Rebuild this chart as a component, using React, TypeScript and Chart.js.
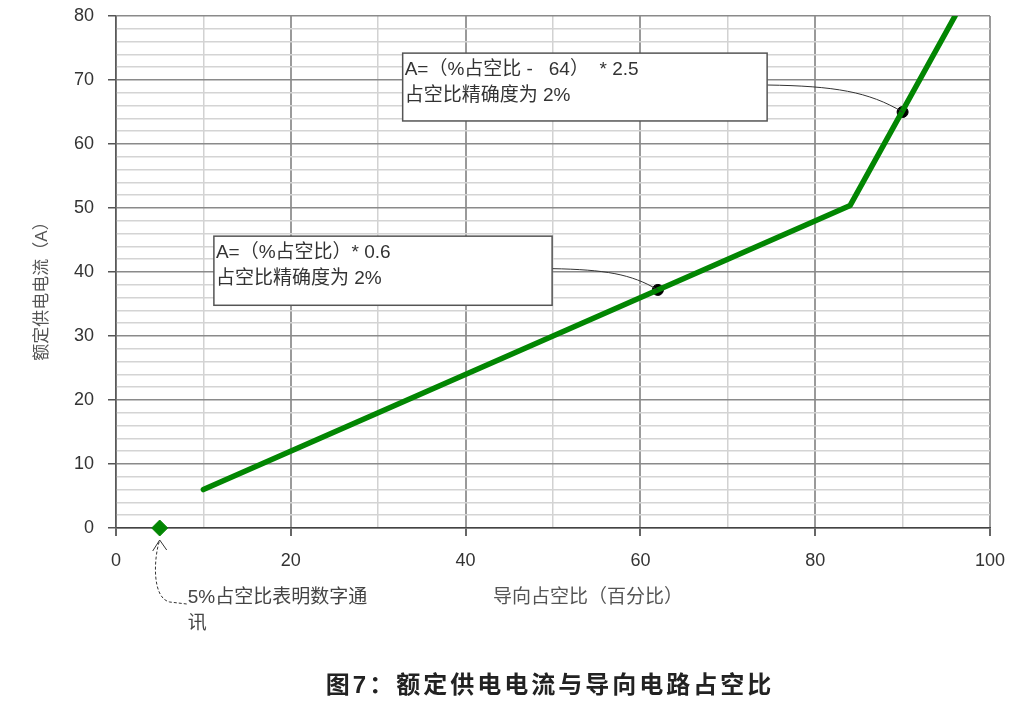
import React, { useEffect, useRef } from "react";
import { Chart, registerables } from "chart.js";

Chart.register(...registerables);

// ---- data ----
const dutyCycle = [10, 84, 96];
const ratedCurrent = [6, 50.4, 80];
const markedDuty = [62, 90];
const markedCurrent = [37.2, 65];
const digitalDuty = [5];
const digitalCurrent = [0];

const xLabelStep = 20;
const yLabelStep = 10;

const formulaLow = ["A=（%占空比）* 0.6", "占空比精确度为 2%"];
const formulaHigh = ["A=（%占空比 -   64）  * 2.5", "占空比精确度为 2%"];
const digitalNote = ["5%占空比表明数字通", "讯"];
const xTitle = "导向占空比（百分比）";
const yTitle = "额定供电电流（A）";
const chartTitle = "图7：额定供电电流与导向电路占空比";

// box corners in data units: [xLeft, xRight, yTop, yBottom]
const boxLow = [11.2, 49.9, 45.6, 34.8];
const boxHigh = [32.8, 74.5, 74.2, 63.6];

const FONT = '"Liberation Sans", "Noto Sans CJK SC", sans-serif';
const GREEN = "#028602";

export default function App() {
  const ref = useRef<HTMLCanvasElement>(null);

  useEffect(() => {
    const canvas = ref.current!;

    const notes = {
      id: "notes",
      afterDatasetsDraw(chart: any) {
        const { ctx } = chart;
        const xs = chart.scales.x;
        const ys = chart.scales.y;
        ctx.save();

        const drawBox = (box: number[], lines: string[], target: number) => {
          const l = xs.getPixelForValue(box[0]);
          const r = xs.getPixelForValue(box[1]);
          const t = ys.getPixelForValue(box[2]);
          const b = ys.getPixelForValue(box[3]);
          const sx = r;
          const sy = t + (b - t) * 0.47;
          const ex = xs.getPixelForValue(markedDuty[target]);
          const ey = ys.getPixelForValue(markedCurrent[target]);
          ctx.beginPath();
          ctx.strokeStyle = "#333";
          ctx.lineWidth = 1;
          ctx.moveTo(sx, sy);
          ctx.bezierCurveTo(
            sx + (ex - sx) * 0.5,
            sy + 1,
            sx + (ex - sx) * 0.75,
            sy + (ey - sy) * 0.25,
            ex,
            ey
          );
          ctx.stroke();
          ctx.fillStyle = "#fff";
          ctx.fillRect(l, t, r - l, b - t);
          ctx.strokeStyle = "#555";
          ctx.lineWidth = 1.5;
          ctx.strokeRect(l, t, r - l, b - t);
          ctx.fillStyle = "#333";
          ctx.font = `19px ${FONT}`;
          ctx.textAlign = "left";
          ctx.textBaseline = "middle";
          lines.forEach((s, i) => ctx.fillText(s, l + 2, t + 17 + i * 26));
        };
        drawBox(boxLow, formulaLow, 0);
        drawBox(boxHigh, formulaHigh, 1);

        // digital comm note with arrow
        const px = xs.getPixelForValue(digitalDuty[0]);
        const py = ys.getPixelForValue(digitalCurrent[0]);
        const tipY = py + 12;
        ctx.beginPath();
        ctx.setLineDash([3, 2]);
        ctx.strokeStyle = "#333";
        ctx.lineWidth = 1;
        ctx.moveTo(px + 27, py + 76);
        ctx.lineTo(px + 10, py + 74);
        ctx.bezierCurveTo(px - 8, py + 70, px - 6, py + 30, px, tipY);
        ctx.stroke();
        ctx.setLineDash([]);
        ctx.beginPath();
        ctx.moveTo(px - 7, tipY + 11);
        ctx.lineTo(px, tipY);
        ctx.lineTo(px + 7, tipY + 10);
        ctx.stroke();
        ctx.fillStyle = "#444";
        ctx.font = `19px ${FONT}`;
        ctx.textAlign = "left";
        ctx.textBaseline = "middle";
        digitalNote.forEach((s, i) => ctx.fillText(s, px + 28, py + 70 + i * 26));

        // axis titles
        ctx.fillStyle = "#555";
        ctx.font = `19px ${FONT}`;
        ctx.textAlign = "center";
        ctx.fillText(xTitle, 588, 598);
        ctx.save();
        ctx.translate(42, 287);
        ctx.rotate(-Math.PI / 2);
        ctx.font = `17px ${FONT}`;
        ctx.fillText(yTitle, 0, 0);
        ctx.restore();

        // chart title
        ctx.fillStyle = "#222";
        ctx.font = `bold 24px ${FONT}`;
        (ctx as any).letterSpacing = "3px";
        ctx.fillText(chartTitle, 550, 686);
        (ctx as any).letterSpacing = "0px";
        ctx.restore();
      },
    };

    const chart = new Chart(canvas, {
      type: "scatter",
      data: {
        datasets: [
          {
            data: dutyCycle.map((x, i) => ({ x, y: ratedCurrent[i] })),
            showLine: true,
            borderColor: GREEN,
            borderWidth: 5.5,
            borderCapStyle: "round",
            borderJoinStyle: "round",
            pointRadius: 0,
          },
          {
            data: markedDuty.map((x, i) => ({ x, y: markedCurrent[i] })),
            pointRadius: 5.5,
            backgroundColor: "#000",
            borderColor: "#000",
          },
          {
            data: digitalDuty.map((x, i) => ({ x, y: digitalCurrent[i] })),
            pointStyle: "rectRot",
            pointRadius: 8,
            backgroundColor: GREEN,
            borderColor: GREEN,
            clip: false,
          },
        ],
      } as any,
      plugins: [notes],
      options: {
        responsive: false,
        animation: false,
        layout: { padding: { left: 0, top: 16, right: 45, bottom: 0 } },
        plugins: { legend: { display: false }, tooltip: { enabled: false } },
        scales: {
          x: {
            type: "linear",
            min: 0,
            max: 100,
            afterFit: (s: any) => {
              s.height = 180;
              s.paddingLeft = 0;
              s.paddingRight = 0;
            },
            ticks: {
              stepSize: 10,
              autoSkip: false,
              maxRotation: 0,
              padding: 14,
              color: "#333",
              font: { family: FONT, size: 18 },
              callback: (v: any) => (v % xLabelStep === 0 ? String(v) : ""),
            },
            grid: {
              color: (c: any) => (c.tick && c.tick.value % xLabelStep === 0 ? "#9a9a9a" : "#d2d2d2"),
              lineWidth: (c: any) => (c.tick && c.tick.value % xLabelStep === 0 ? 2 : 1.5),
              tickColor: (c: any) => (c.tick && c.tick.value % xLabelStep === 0 ? "#666" : "rgba(0,0,0,0)"),
              tickLength: 8,
            },
            border: { color: "#444", width: 1.5 },
          },
          y: {
            type: "linear",
            min: 0,
            max: 80,
            afterFit: (s: any) => {
              s.width = 116;
              s.paddingTop = 0;
              s.paddingBottom = 0;
            },
            ticks: {
              stepSize: 2,
              autoSkip: false,
              padding: 14,
              color: "#333",
              font: { family: FONT, size: 18 },
              callback: (v: any) => (v % yLabelStep === 0 ? String(v) : ""),
            },
            grid: {
              color: (c: any) => (c.tick && c.tick.value % yLabelStep === 0 ? "#8a8a8a" : "#d4d4d4"),
              lineWidth: 1.5,
              tickColor: (c: any) => (c.tick && c.tick.value % yLabelStep === 0 ? "#555" : "rgba(0,0,0,0)"),
              tickLength: 8,
            },
            border: { color: "#5a5a5a", width: 1.5 },
          },
        },
      } as any,
    });
    return () => chart.destroy();
  }, []);

  return (
    <div style={{ position: "absolute", left: 0, top: 0, width: 1035, height: 708, background: "#fff" }}>
      <canvas ref={ref} width={1035} height={708} style={{ display: "block" }} />
    </div>
  );
}
